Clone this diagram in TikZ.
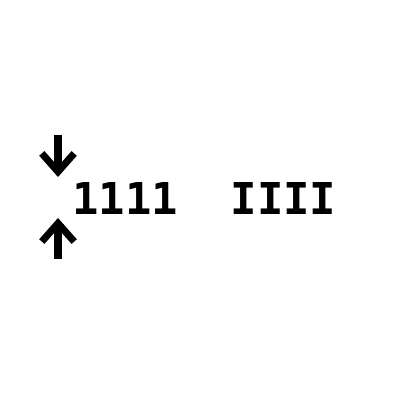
\documentclass[tikz,border=0pt]{standalone}
\usepackage{fontspec}
\newfontfamily\monobold{DejaVu Sans Mono Bold}
\usetikzlibrary{arrows.meta}
\tikzstyle{bigarrow} = [line width=5pt,-{Straight Barb[length=13pt,width=23pt]}]

\begin{document}
\begin{tikzpicture}[x=0.025cm,y=-0.025cm]
    \useasboundingbox (0,0) rectangle (400,400);
    % Label
    \node[anchor=west,inner sep=0pt,font=\monobold\fontsize{31.2pt}{32pt}\selectfont] (txt) at (72,199) {1111\ \ IIII};
    % Arrow ends
    \coordinate (dtop) at (58,135);
    \coordinate (dtip) at (58,177);
    \coordinate (ubot) at (58,259);
    \coordinate (utip) at (58,218);
    % Arrows
    \draw[bigarrow] (dtop) -- (dtip);
    \draw[bigarrow] (ubot) -- (utip);
\end{tikzpicture}
\end{document}
